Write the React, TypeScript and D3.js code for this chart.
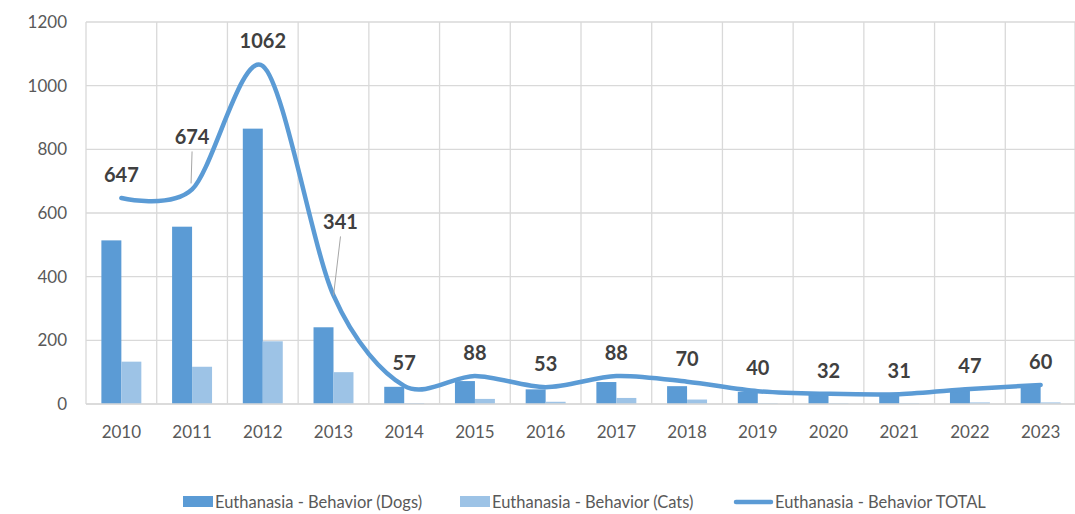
import React from "react";
import * as d3 from "d3";

const years = ["2010", "2011", "2012", "2013", "2014", "2015", "2016", "2017", "2018", "2019", "2020", "2021", "2022", "2023"];
const dogs = [514, 557, 865, 241, 54, 72, 46, 69, 56, 38, 30, 29, 42, 55];
const cats = [133, 117, 197, 100, 3, 16, 7, 19, 14, 2, 2, 2, 5, 5];
const totals = [647, 674, 1062, 341, 57, 88, 53, 88, 70, 40, 32, 31, 47, 60];
const yTicks = [0, 200, 400, 600, 800, 1000, 1200];

const DOG = "#5B9BD5";
const CAT = "#9DC3E6";
const FONT = "Lato, 'Open Sans', sans-serif";

export default function App() {
  const width = 1075;
  const height = 514;
  const left = 86, right = 1076, top = 22, bottom = 404;

  const x = d3.scaleBand().domain(years).range([left, right]).padding(0);
  const y = d3.scaleLinear().domain([0, 1200]).range([bottom, top]);
  const inner = d3.scaleBand().domain(["dogs", "cats"]).range([0, x.bandwidth()]).paddingInner(0).paddingOuter(0.77);

  const cx = (i: number) => (x(years[i]) as number) + x.bandwidth() / 2;

  const line = d3.line<number>()
    .x((_, i) => cx(i))
    .y(d => y(d))
    .curve(d3.curveCardinal.tension(0.1));

  // label offsets, a couple of them pulled away with leader lines like in excel
  const labelLift = (i: number) => (i === 1 ? 52 : i === 3 ? 73 : i === 2 ? 25 : 23);
  const labelShift = (i: number) => (i === 3 ? 7 : 0);

  return (
    <svg width={width} height={height} style={{ position: "absolute", left: 0, top: 0 }}>
      <rect width={width} height={height} fill="#fff" />
      {yTicks.map(t => (
        <g key={t}>
          <line x1={left} x2={right} y1={y(t)} y2={y(t)} stroke="#d9d9d9" strokeWidth={1.3} />
          <text x={67} y={y(t)} dy="0.35em" textAnchor="end" fontFamily={FONT} fontSize={17} fill="#595959">{t}</text>
        </g>
      ))}
      {years.map(yr => (
        <line key={yr} x1={x(yr)} x2={x(yr)} y1={top} y2={bottom} stroke="#d9d9d9" strokeWidth={1.3} />
      ))}
      <line x1={right - 1} x2={right - 1} y1={top} y2={bottom} stroke="#d9d9d9" strokeWidth={1.3} />
      {years.map((yr, i) => (
        <g key={yr}>
          <rect x={(x(yr) as number) + (inner("dogs") as number)} y={y(dogs[i])} width={inner.bandwidth()} height={bottom - y(dogs[i])} fill={DOG} />
          <rect x={(x(yr) as number) + (inner("cats") as number)} y={y(cats[i])} width={inner.bandwidth()} height={bottom - y(cats[i])} fill={CAT} />
          <text x={cx(i)} y={432} dy="0.35em" textAnchor="middle" fontFamily={FONT} fontSize={17} fill="#595959">{yr}</text>
        </g>
      ))}
      <line x1={left} x2={right} y1={bottom} y2={bottom} stroke="#d9d9d9" strokeWidth={1.3} />
      <path d={line(totals) as string} fill="none" stroke={DOG} strokeWidth={4.5} strokeLinecap="round" />
      {totals.map((v, i) => {
        const lx = cx(i) + labelShift(i);
        const ly = y(v) - labelLift(i);
        return (
          <g key={i}>
            {(i === 1 || i === 3) && (
              <line x1={lx} y1={ly + 14} x2={cx(i) - (i === 1 ? 1 : 0)} y2={y(v) - (i === 1 ? 6 : 0)} stroke="#a6a6a6" strokeWidth={1} />
            )}
            <text x={lx} y={ly} dy="0.35em" textAnchor="middle" fontFamily={FONT} fontWeight="bold" fontSize={20} fill="#404040">{v}</text>
          </g>
        );
      })}
      <g fontFamily={FONT} fontSize={16.5} fill="#595959">
        <rect x={183} y={496} width={30} height={11} fill={DOG} />
        <text x={215} y={502} dy="0.35em">Euthanasia - Behavior (Dogs)</text>
        <rect x={460} y={496} width={30} height={11} fill={CAT} />
        <text x={492} y={502} dy="0.35em">Euthanasia - Behavior (Cats)</text>
        <line x1={736} x2={771} y1={502} y2={502} stroke={DOG} strokeWidth={4.5} strokeLinecap="round" />
        <text x={775} y={502} dy="0.35em">Euthanasia - Behavior TOTAL</text>
      </g>
    </svg>
  );
}
